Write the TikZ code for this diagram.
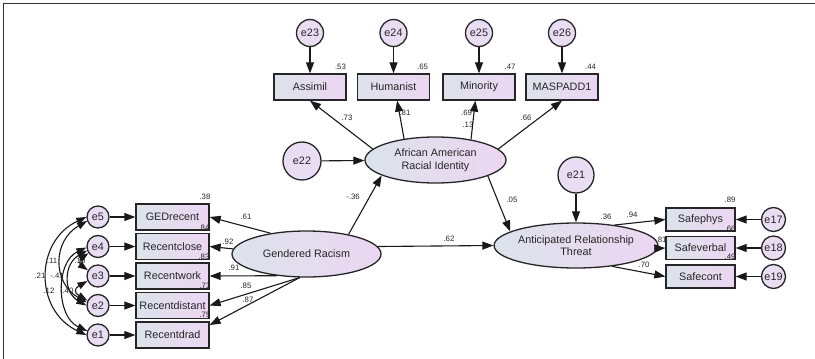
\documentclass[tikz,border=0pt]{standalone}
\usepackage{fontspec}
\setmainfont{Liberation Sans}
\usetikzlibrary{shapes.geometric, arrows.meta}
\definecolor{shadeL}{HTML}{DCE3EB}
\definecolor{shadeR}{HTML}{ECD6F2}
\definecolor{errfill}{HTML}{E9DDF3}
\tikzstyle{measure} = [rectangle, minimum width=72pt, minimum height=26pt, inner sep=0pt, text centered, draw=black!85, line width=1.3pt, left color=shadeL, right color=shadeR, text=black!85, font=\fontsize{10.8}{12.5}\selectfont]
\tikzstyle{latent} = [ellipse, inner sep=0pt, align=center, draw=black!85, line width=1.3pt, left color=shadeL, right color=shadeR, text=black!85, font=\fontsize{10.8}{12.5}\selectfont]
\tikzstyle{err} = [circle, minimum size=24pt, inner sep=0pt, draw=black!85, line width=1.3pt, fill=errfill, text=black!85, font=\fontsize{10.8}{12.5}\selectfont]
\tikzstyle{coef} = [inner sep=0pt, text=black!85, font=\fontsize{7.8}{8}\selectfont]
\tikzstyle{arrow} = [line width=1.1pt, draw=black!90, ->, >={Triangle[length=11pt,width=8pt]}]
\tikzstyle{cov} = [line width=1.1pt, draw=black!90, <->, >={Triangle[length=10pt,width=7pt]}]

\begin{document}
\begin{tikzpicture}[x=1pt, y=1pt, node distance=29.5pt]
\useasboundingbox (0,0) rectangle (815,-359);
\draw [line width=1.2pt, black!80] (3.5,-359) -- (3.5,-3.5) -- (815,-3.5);

% latent variables
\node (african) [latent, minimum width=141pt, minimum height=46pt] at (435.5,-160) {African American\\Racial Identity};
\node (gendered) [latent, minimum width=149pt, minimum height=46pt] at (306.5,-254) {Gendered Racism};
\node (threat) [latent, minimum width=138pt, minimum height=45pt] at (576,-245.5) {Anticipated Relationship\\Threat};
\node (e22) [err, minimum size=38pt, left of=african, xshift=-104pt, yshift=-1pt] {e22};
\node (e21) [err, minimum size=36pt, above of=threat, yshift=41pt] {e21};

% identity indicators
\node (assimil) [measure] at (310,-87) {Assimil};
\node (humanist) [measure, right of=assimil, xshift=54pt] {Humanist};
\node (minority) [measure, right of=humanist, xshift=56pt] {Minority};
\node (maspadd) [measure, right of=minority, xshift=53.5pt] {MASPADD1};
\node (e23) [err, minimum size=27pt, above of=assimil, yshift=24.5pt] {e23};
\node (e24) [err, minimum size=27pt, above of=humanist, yshift=24.5pt] {e24};
\node (e25) [err, minimum size=27pt, above of=minority, yshift=24.5pt] {e25};
\node (e26) [err, minimum size=27pt, above of=maspadd, yshift=24.5pt] {e26};

% racism indicators
\node (ged) [measure, minimum width=73pt] at (172.5,-217) {GEDrecent};
\node (close) [measure, minimum width=73pt, below of=ged] {Recentclose};
\node (work) [measure, minimum width=73pt, below of=close] {Recentwork};
\node (distant) [measure, minimum width=73pt, below of=work] {Recentdistant};
\node (drad) [measure, minimum width=73pt, below of=distant] {Recentdrad};
\node (e5) [err, minimum size=22pt, left of=ged, xshift=-45pt] {e5};
\node (e4) [err, minimum size=22pt, left of=close, xshift=-45pt] {e4};
\node (e3) [err, minimum size=22pt, left of=work, xshift=-45pt] {e3};
\node (e2) [err, minimum size=22pt, left of=distant, xshift=-45pt] {e2};
\node (e1) [err, minimum size=22pt, left of=drad, xshift=-45pt] {e1};

% threat indicators
\node (safephys) [measure, minimum width=69pt, minimum height=23pt] at (700.5,-219.5) {Safephys};
\node (safeverbal) [measure, minimum width=69pt, minimum height=23pt, below of=safephys, yshift=1pt] {Safeverbal};
\node (safecont) [measure, minimum width=69pt, minimum height=23pt, below of=safeverbal, yshift=1pt] {Safecont};
\node (e17) [err, right of=safephys, xshift=43.5pt] {e17};
\node (e18) [err, right of=safeverbal, xshift=43.5pt] {e18};
\node (e19) [err, right of=safecont, xshift=43.5pt] {e19};

% estimates
\node (r53) [coef] at (340.5,-67) {.53};
\node (r65) [coef] at (422.5,-67) {.65};
\node (r47) [coef] at (510,-67) {.47};
\node (r44) [coef] at (590.5,-67) {.44};
\node (c73) [coef] at (347,-118) {.73};
\node (c81) [coef] at (405,-113) {.81};
\node (c69) [coef] at (466.5,-113) {.69};
\node (r13) [coef] at (468,-125) {.13};
\node (c66) [coef] at (526,-118) {.66};
\node (cm36) [coef] at (353,-197) {-.36};
\node (c05) [coef] at (512,-200) {.05};
\node (c62) [coef] at (449,-239) {.62};
\node (r89) [coef] at (730,-200) {.89};
\node (r66) [coef] at (730,-229) {.66};
\node (r49) [coef] at (730,-257) {.49};
\node (r36) [coef] at (606,-217) {.36};
\node (c94) [coef] at (632,-215) {.94};
\node (c81b) [coef] at (661,-240) {.81};
\node (c70) [coef] at (644,-265) {.70};
\node (r38) [coef] at (205,-197) {.38};
\node (r84) [coef] at (204,-228) {.84};
\node (r83) [coef] at (204,-257) {.83};
\node (r73) [coef] at (205,-286) {.73};
\node (r75) [coef] at (205,-315) {.75};
\node (c61) [coef] at (246,-217) {.61};
\node (c92) [coef] at (228,-242) {.92};
\node (c91) [coef] at (234,-268) {.91};
\node (c85) [coef] at (246,-286) {.85};
\node (c87) [coef] at (248,-300) {.87};
\node (v21) [coef] at (40,-276) {.21};
\node (v11) [coef] at (52,-261) {.11};
\node (v12) [coef] at (49,-291) {.12};
\node (vm41) [coef] at (57,-276) {-.41};
\node (v10) [coef] at (80,-261) {.10};
\node (v40) [coef] at (68,-291) {.40};

% paths
\draw [arrow] (e23) -- (assimil);
\draw [arrow] (e24) -- (humanist);
\draw [arrow] (e25) -- (minority);
\draw [arrow] (e26) -- (maspadd);
\draw [arrow] (african.170) -- (assimil.south);
\draw [arrow] (african.146) -- (humanist.-75);
\draw [arrow] (african.30) -- (minority.-105);
\draw [arrow] (african.10) -- (maspadd.south);
\draw [arrow] (e22) -- (african);
\draw [arrow] (gendered.25) -- (african.196);
\draw [arrow] (african.-17) -- (threat.168);
\draw [arrow] (gendered.6) -- (threat.west);
\draw [arrow] (e21) -- (threat);
\draw [arrow] (threat.28) -- (safephys.west);
\draw [arrow] (threat.-2) -- (safeverbal.west);
\draw [arrow] (threat.-30) -- (safecont.west);
\draw [arrow] (e17) -- (safephys);
\draw [arrow] (e18) -- (safeverbal);
\draw [arrow] (e19) -- (safecont);
\draw [arrow] (gendered.150) -- (ged.east);
\draw [arrow] (gendered.176) -- (close.east);
\draw [arrow] (gendered.216) -- (work.east);
\draw [arrow] (gendered.254) -- (distant.east);
\draw [arrow] (gendered.254) -- (drad.15);
\draw [arrow] (e5) -- (ged);
\draw [arrow] (e4) -- (close);
\draw [arrow] (e3) -- (work);
\draw [arrow] (e2) -- (distant);
\draw [arrow] (e1) -- (drad);

% covariances
\draw [cov] (e5.180) to[out=205, in=155, looseness=1.25] (e1.180);
\draw [cov] (e5.200) to[out=210, in=150, looseness=1.25] (e2.165);
\draw [cov] (e4.185) to[out=205, in=155, looseness=1.05] (e1.160);
\draw [cov] (e4.200) to[out=210, in=150, looseness=1.25] (e2.180);
\draw [cov] (e4.215) to[out=215, in=145, looseness=1.5] (e3.150);
\draw [cov] (e3.205) to[out=210, in=150, looseness=2] (e2.155);
\end{tikzpicture}
\end{document}
